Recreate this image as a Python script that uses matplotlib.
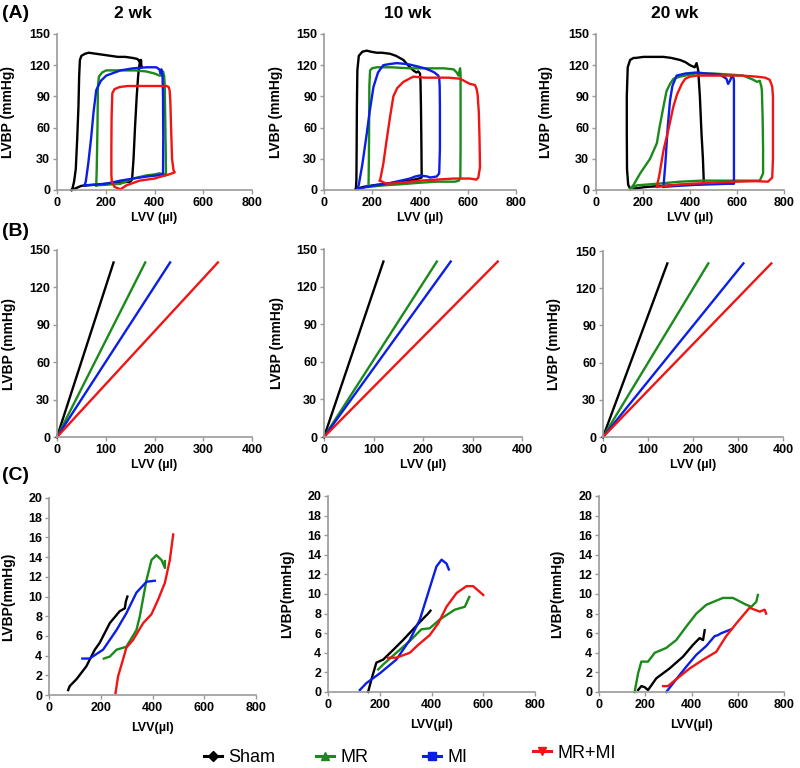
import matplotlib
matplotlib.use('Agg')
import matplotlib.pyplot as plt
from matplotlib.lines import Line2D

plt.rcParams['font.family'] = ['Liberation Sans', 'DejaVu Sans']

groups = ['Sham', 'MR', 'MI', 'MR+MI']
colors = {'Sham': '#000000', 'MR': '#1a8a1a', 'MI': '#0a1ee6', 'MR+MI': '#f01414'}
markers = {'Sham': 'D', 'MR': '^', 'MI': 's', 'MR+MI': 'v'}
weeks = ['2 wk', '10 wk', '20 wk']

# ---------------- Panel A: PV loops (volume µl, pressure mmHg) ----------------
A2_sham_v = [60, 70, 80, 100, 150, 200, 250, 300, 308, 314, 320, 327, 333, 338, 342, 345, 346, 343, 340, 330, 310, 280, 250, 220, 190, 160, 130, 115, 100, 94, 91, 88, 83, 77, 70, 64, 60]
A2_sham_p = [0, 1, 2, 4, 5, 6, 7, 8, 10, 30, 60, 90, 110, 120, 125, 125, 118, 122, 123, 126, 127, 128, 128, 129, 130, 131, 132, 131, 129, 125, 110, 80, 50, 20, 8, 2, 0]
A2_mr_v = [161, 200, 260, 312, 366, 400, 420, 440, 445, 447, 446, 444, 442, 440, 435, 430, 421, 400, 366, 320, 257, 220, 202, 185, 172, 168, 166, 163, 161]
A2_mr_p = [4.5, 5, 6, 11, 14, 15, 16, 15, 14, 16, 40, 70, 100, 109, 114, 110, 110, 112, 114, 115, 115, 115, 115, 113, 109, 100, 60, 20, 4.5]
A2_mi_v = [113, 150, 200, 260, 312, 370, 410, 430, 435, 436, 435, 433, 430, 428, 425, 420, 407, 370, 312, 260, 202, 180, 161, 150, 140, 128, 118, 113]
A2_mi_p = [4.5, 5, 6, 9, 11, 13, 14, 15, 16, 50, 90, 110, 114, 116, 112, 116, 118, 118, 117, 115, 110, 105, 96, 75, 50, 25, 8, 4.5]
A2_mrmi_v = [260, 285, 339, 400, 428, 460, 483, 478, 472, 468, 465, 462, 458, 450, 440, 400, 339, 290, 257, 236, 227, 224, 223, 223, 225, 236, 260]
A2_mrmi_p = [0.6, 4.5, 9, 11, 13, 15, 17, 19, 30, 60, 85, 96, 99, 100, 100, 100, 100, 100, 99, 97, 93, 70, 40, 15, 7.7, 3, 0.6]

A10_sham_v = [133, 164, 220, 261, 320, 358, 395, 407, 406, 404, 402, 400, 393, 385, 372, 350, 331, 300, 275, 240, 219, 195, 178, 160, 145, 139, 137, 136, 135, 133]
A10_sham_p = [1, 3, 5, 6, 8, 9, 11, 12, 40, 80, 105, 112, 114, 113, 115, 120, 125, 129, 131, 132, 132, 133, 134, 133, 129, 115, 80, 40, 10, 1]
A10_mr_v = [185, 250, 320, 400, 470, 546, 562, 568, 569, 569, 569, 567, 560, 553, 540, 500, 420, 358, 280, 219, 200, 192, 189, 188, 187, 186, 185]
A10_mr_p = [3, 4.5, 5.5, 7, 8, 8, 9, 12, 40, 80, 112, 117, 110, 113, 116, 117, 117, 117, 118, 118, 117, 115, 100, 60, 30, 10, 3]
A10_mi_v = [139, 200, 261, 320, 358, 380, 400, 430, 442, 470, 480, 483, 483, 482, 480, 476, 460, 442, 420, 386, 350, 303, 270, 247, 225, 206, 190, 178, 160, 145, 139]
A10_mi_p = [1, 4, 6, 9, 11, 13, 14, 13, 12, 13, 16, 40, 80, 100, 108, 110, 113, 115, 117, 119, 121, 122, 121, 120, 113, 99, 75, 54, 25, 5, 1]
A10_mrmi_v = [233, 261, 320, 400, 470, 539, 608, 635, 643, 650, 648, 645, 640, 636, 629, 608, 567, 520, 469, 420, 372, 331, 305, 289, 275, 261, 247, 236, 233]
A10_mrmi_p = [9, 6, 7, 9, 10, 11, 11, 10, 12, 22, 50, 75, 92, 97, 101, 102, 107, 108, 108, 108, 109, 104, 98, 90, 70, 48, 25, 12, 9]

A20_sham_v = [146, 216, 287, 358, 430, 459, 455, 449, 442, 435, 428, 420, 400, 380, 358, 320, 287, 240, 202, 170, 160, 145, 135, 131, 131, 132, 137, 146]
A20_sham_p = [1, 3, 4, 5, 5, 6, 30, 54, 90, 115, 122, 118, 120, 123, 125, 127, 128, 128, 128, 127, 127, 125, 118, 90, 54, 20, 5, 1]
A20_mr_v = [146, 174, 260, 358, 450, 570, 650, 697, 711, 711, 709, 706, 704, 697, 685, 669, 626, 570, 499, 420, 358, 330, 315, 300, 287, 270, 259, 230, 188, 160, 146]
A20_mr_p = [1, 4.5, 6, 8, 9, 9, 9, 9, 16, 40, 70, 95, 99, 105, 104, 106, 110, 111, 112, 112, 109, 107, 102, 95, 80, 60, 45, 30, 16, 5, 1]
A20_mi_v = [287, 350, 428, 500, 560, 587, 587, 587, 587, 585, 577, 570, 562, 555, 527, 470, 428, 380, 343, 325, 315, 305, 295, 287]
A20_mi_p = [3, 4, 5, 5.5, 6, 6, 40, 80, 105, 108, 109, 105, 102, 107, 111, 112, 113, 112, 110, 100, 86, 60, 25, 3]
A20_mrmi_v = [259, 320, 400, 500, 598, 680, 732, 750, 753, 753, 753, 750, 746, 739, 720, 683, 620, 541, 480, 430, 400, 380, 365, 345, 329, 310, 287, 270, 259]
A20_mrmi_p = [3, 4.5, 6, 7, 8, 8.5, 8, 12, 30, 60, 90, 99, 102, 106, 108, 109, 110, 110, 110, 110, 109, 107, 102, 92, 80, 60, 38, 15, 3]

# ---------------- Panel B: ESPVR lines, volume reached at 140 mmHg ----------------
B_pressure_end = 140
B2_vol_end = [116, 181, 232, 330]
B10_vol_end = [120, 228, 256, 351]
B20_vol_end = [143, 234, 312, 374]

# ---------------- Panel C: EDPVR curves ----------------
C2_sham_v = [74, 80, 106, 144, 177, 196, 235, 273, 293, 297, 303]
C2_sham_p = [0.5, 0.9, 1.6, 2.9, 4.6, 5.3, 7.3, 8.5, 8.8, 9.5, 10.0]
C2_mr_v = [212, 235, 261, 299, 338, 351, 377, 396, 415, 435, 448, 448]
C2_mr_p = [3.7, 3.9, 4.6, 4.9, 6.6, 8.0, 11.7, 13.7, 14.2, 13.7, 12.9, 13.6]
C2_mi_v = [129, 157, 209, 261, 299, 338, 377, 409]
C2_mi_p = [3.7, 3.7, 4.6, 6.6, 8.3, 10.4, 11.5, 11.6]
C2_mrmi_v = [257, 267, 286, 299, 325, 364, 396, 422, 448, 467, 480]
C2_mrmi_p = [0.2, 1.9, 3.6, 4.8, 5.6, 7.3, 8.2, 9.7, 11.4, 13.7, 16.3]

C10_sham_v = [155, 168, 187, 213, 252, 290, 329, 368, 387, 396]
C10_sham_p = [0.0, 1.3, 3.0, 3.3, 4.3, 5.3, 6.4, 7.5, 8.0, 8.3]
C10_mr_v = [194, 213, 264, 316, 361, 393, 432, 490, 529, 546]
C10_mr_p = [2.3, 2.8, 4.0, 5.2, 6.4, 6.5, 7.4, 8.4, 8.7, 9.7]
C10_mi_v = [123, 148, 200, 264, 316, 355, 387, 419, 439, 458, 467]
C10_mi_p = [0.2, 0.9, 1.9, 3.3, 5.3, 7.4, 10.1, 12.8, 13.5, 13.1, 12.5]
C10_mrmi_v = [232, 264, 316, 348, 393, 426, 458, 497, 535, 561, 600]
C10_mrmi_p = [3.5, 3.5, 4.0, 4.8, 5.8, 7.0, 8.7, 10.1, 10.8, 10.8, 9.9]

C20_sham_v = [169, 183, 197, 212, 248, 305, 363, 406, 435, 450, 457]
C20_sham_p = [0.2, 0.6, 0.5, 0.2, 1.4, 2.4, 3.6, 4.8, 5.5, 5.3, 6.3]
C20_mr_v = [154, 169, 183, 197, 212, 241, 291, 334, 378, 421, 464, 536, 579, 637, 659, 680, 687]
C20_mr_p = [0.0, 1.9, 3.1, 3.1, 3.1, 4.0, 4.5, 5.3, 6.7, 8.0, 8.9, 9.6, 9.6, 8.9, 8.7, 9.2, 9.9]
C20_mi_v = [291, 334, 378, 421, 464, 500, 514, 529, 572]
C20_mi_p = [0.0, 1.3, 2.6, 3.8, 4.7, 5.7, 5.8, 6.0, 6.4]
C20_mrmi_v = [277, 298, 334, 392, 450, 507, 550, 594, 651, 695, 716, 723]
C20_mrmi_p = [0.6, 0.6, 1.3, 2.4, 3.3, 4.1, 5.7, 7.0, 8.6, 8.2, 8.4, 8.0]

loopsA = [
    [(A2_sham_v, A2_sham_p), (A2_mr_v, A2_mr_p), (A2_mi_v, A2_mi_p), (A2_mrmi_v, A2_mrmi_p)],
    [(A10_sham_v, A10_sham_p), (A10_mr_v, A10_mr_p), (A10_mi_v, A10_mi_p), (A10_mrmi_v, A10_mrmi_p)],
    [(A20_sham_v, A20_sham_p), (A20_mr_v, A20_mr_p), (A20_mi_v, A20_mi_p), (A20_mrmi_v, A20_mrmi_p)],
]
linesB = [B2_vol_end, B10_vol_end, B20_vol_end]
curvesC = [
    [(C2_sham_v, C2_sham_p), (C2_mr_v, C2_mr_p), (C2_mi_v, C2_mi_p), (C2_mrmi_v, C2_mrmi_p)],
    [(C10_sham_v, C10_sham_p), (C10_mr_v, C10_mr_p), (C10_mi_v, C10_mi_p), (C10_mrmi_v, C10_mrmi_p)],
    [(C20_sham_v, C20_sham_p), (C20_mr_v, C20_mr_p), (C20_mi_v, C20_mi_p), (C20_mrmi_v, C20_mrmi_p)],
]

W, H = 800, 768
fig = plt.figure(figsize=(W / 100, H / 100), dpi=100)

# axes boxes in pixels: (left, right, top, bottom)
boxA = [(57, 252, 34, 190), (324, 516, 34, 190), (596, 784, 34, 190)]
boxB = [(57, 252, 250, 437), (324, 522, 249, 437), (603, 783, 251, 437)]
boxC = [(49, 256, 498, 695), (328, 535, 496, 692), (599, 784, 496, 692)]
ylab_x = [[15, 283, 553], [16, 284, 561], [15, 294, 564]]

SP = '#9a9a9a'
LW = 1.7


def make_ax(box):
    l, r, t, b = box
    ax = fig.add_axes([l / W, 1 - b / H, (r - l) / W, (b - t) / H])
    for s in ['top', 'right']:
        ax.spines[s].set_visible(False)
    for s in ['left', 'bottom']:
        ax.spines[s].set_color(SP)
        ax.spines[s].set_linewidth(1.2)
    ax.tick_params(axis='both', colors=SP, labelcolor='black', length=3, width=1, direction='out', pad=2)
    ax.patch.set_alpha(0)
    return ax


def style_ticks(ax):
    for lab in ax.get_xticklabels() + ax.get_yticklabels():
        lab.set_fontweight('bold')
        lab.set_fontsize(9)


def set_ylab(ax, box, xpix, text):
    l, r, t, b = box
    ax.set_ylabel(text, fontsize=10, fontweight='bold')
    ax.yaxis.set_label_coords((xpix - l) / (r - l), 0.5)


for i in range(3):
    # Row A
    ax = make_ax(boxA[i])
    for g, (v, p) in zip(groups, loopsA[i]):
        ax.plot(v, p, color=colors[g], lw=LW, clip_on=False, solid_joinstyle='round')
    ax.set_xlim(0, 800)
    ax.set_ylim(0, 150)
    ax.set_xticks([0, 200, 400, 600, 800])
    ax.set_yticks([0, 30, 60, 90, 120, 150])
    style_ticks(ax)
    ax.set_xlabel('LVV (µl)', fontsize=9, fontweight='bold', labelpad=2)
    set_ylab(ax, boxA[i], ylab_x[0][i], 'LVBP (mmHg)')

    # Row B
    ax = make_ax(boxB[i])
    for g, ve in zip(groups, linesB[i]):
        ax.plot([0, ve], [0, B_pressure_end], color=colors[g], lw=LW, clip_on=False)
    ax.set_xlim(0, 400)
    ax.set_ylim(0, 150)
    ax.set_xticks([0, 100, 200, 300, 400])
    ax.set_yticks([0, 30, 60, 90, 120, 150])
    style_ticks(ax)
    ax.set_xlabel('LVV (µl)', fontsize=9, fontweight='bold', labelpad=2)
    set_ylab(ax, boxB[i], ylab_x[1][i], 'LVBP (mmHg)')

    # Row C
    ax = make_ax(boxC[i])
    for g, (v, p) in zip(groups, curvesC[i]):
        ax.plot(v, p, color=colors[g], lw=LW, clip_on=False, solid_joinstyle='round')
    ax.set_xlim(0, 800)
    ax.set_ylim(0, 20)
    ax.set_xticks([0, 200, 400, 600, 800])
    ax.set_yticks(list(range(0, 21, 2)))
    style_ticks(ax)
    ax.set_xlabel('LVV(µl)', fontsize=9, fontweight='bold', labelpad=6)
    set_ylab(ax, boxC[i], ylab_x[2][i], 'LVBP(mmHg)')

# titles
for txt, xp in zip(weeks, [133, 408, 675]):
    fig.text(xp / W, 1 - 14 / H, txt, ha='center', va='center', fontsize=12.5, fontweight='bold')

# panel letters
for txt, yp in zip(['(A)', '(B)', '(C)'], [14, 232, 475]):
    fig.text(2 / W, 1 - yp / H, txt, ha='left', va='center', fontsize=14, fontweight='bold')

# legend entries
leg_pos = {'Sham': (204, 758), 'MR': (316, 758), 'MI': (423, 758), 'MR+MI': (533, 753)}
for g in groups:
    h = Line2D([], [], color=colors[g], marker=markers[g], markersize=5.5, lw=2.2)
    xp, yp = leg_pos[g]
    fig.legend([h], [g], loc='center left', bbox_to_anchor=(xp / W, 1 - yp / H),
               frameon=False, fontsize=13, handlelength=1.0, handletextpad=0.35,
               borderpad=0, borderaxespad=0)

fig.savefig('out.png', dpi=100)
